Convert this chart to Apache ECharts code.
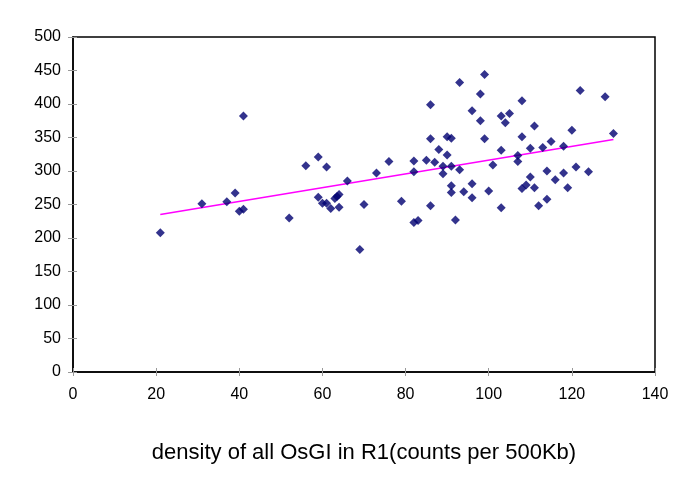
<!DOCTYPE html>
<html>
<head>
<meta charset="utf-8">
<script src="https://cdn.jsdelivr.net/npm/echarts@6/dist/echarts.min.js"></script>
<style>
  html, body { margin: 0; padding: 0; background: #fff; }
  #main { width: 685px; height: 492px; }
</style>
</head>
<body>
<div id="main"></div>
<script>
// x: density of OsGI, y: counts
var densityX = [21, 31, 37, 39, 40, 41, 41, 52, 56, 59, 61, 59, 60, 61, 62, 63, 63.5, 64, 64,
  66, 69, 70, 73, 76, 79, 82, 82, 82, 83, 85, 86, 86, 87, 86, 88, 90, 91, 90, 89, 89, 91, 91, 91,
  92, 93, 93, 94, 96, 96, 96, 98, 98, 99, 99, 100, 101, 103, 104, 105, 103, 103,
  108, 108, 107, 107, 111, 110, 113, 115, 118, 120, 122, 128, 130,
  110, 108, 109, 111, 114, 116, 118, 121, 124, 119, 112, 114];
var countY = [208, 251, 254, 267, 240, 243, 382, 230, 308, 321, 306, 261, 252, 252, 244, 259, 262, 265, 246,
  285, 183, 250, 297, 314, 255, 315, 299, 223, 226, 316, 399, 348, 313, 248, 332, 351, 349, 324, 307, 296, 307, 278, 268,
  227, 432, 302, 269, 390, 281, 260, 415, 375, 444, 348, 270, 309, 382, 372, 386, 331, 245,
  405, 351, 323, 314, 367, 334, 335, 344, 337, 361, 420, 411, 356,
  291, 274, 279, 275, 300, 287, 297, 306, 299, 275, 248, 258];
// trend line ends
var trendX = [21, 130];
var trendY = [235, 347];

var points = [];
for (var i = 0; i < densityX.length; i++) {
  points.push([densityX[i], countY[i]]);
}
var trend = [[trendX[0], trendY[0]], [trendX[1], trendY[1]]];

var myChart = echarts.init(document.getElementById('main'));
var tickStyle = { color: '#999', width: 1 };
var option = {
  animation: false,
  grid: {
    left: 73, right: 30, top: 37, bottom: 120,
    show: true, borderColor: '#000', borderWidth: 1.5, backgroundColor: '#fff'
  },
  xAxis: [
    {
      type: 'value', min: 0, max: 140, interval: 20,
      axisLine: { show: true, onZero: false, lineStyle: { color: '#000', width: 1.5 } },
      axisTick: { show: true, length: 4, lineStyle: tickStyle },
      axisLabel: { color: '#000', fontSize: 16, fontFamily: 'Liberation Sans', margin: 15 },
      splitLine: { show: false },
      name: 'density of all OsGI in R1(counts per 500Kb)',
      nameLocation: 'middle', nameGap: 70,
      nameTextStyle: { color: '#000', fontSize: 22, fontFamily: 'Liberation Sans' }
    },
    {
      type: 'value', min: 0, max: 140, interval: 20, position: 'bottom',
      axisLine: { show: false },
      axisTick: { show: true, inside: true, length: 4, lineStyle: tickStyle },
      axisLabel: { show: false },
      splitLine: { show: false }
    }
  ],
  yAxis: [
    {
      type: 'value', min: 0, max: 500, interval: 50,
      axisLine: { show: true, onZero: false, lineStyle: { color: '#000', width: 1.5 } },
      axisTick: { show: true, length: 5, lineStyle: tickStyle },
      axisLabel: { color: '#000', fontSize: 16, fontFamily: 'Liberation Sans', margin: 12 },
      splitLine: { show: false }
    },
    {
      type: 'value', min: 0, max: 500, interval: 50, position: 'left',
      axisLine: { show: false },
      axisTick: { show: true, inside: true, length: 4, lineStyle: tickStyle },
      axisLabel: { show: false },
      splitLine: { show: false }
    }
  ],
  series: [
    {
      type: 'line',
      data: trend,
      symbol: 'none',
      lineStyle: { color: '#ff00ff', width: 1.5 },
      z: 2
    },
    {
      type: 'scatter',
      data: points,
      symbol: 'diamond',
      symbolSize: 9,
      itemStyle: { color: '#000070' },
      z: 3
    }
  ]
};
myChart.setOption(option);
</script>
</body>
</html>
